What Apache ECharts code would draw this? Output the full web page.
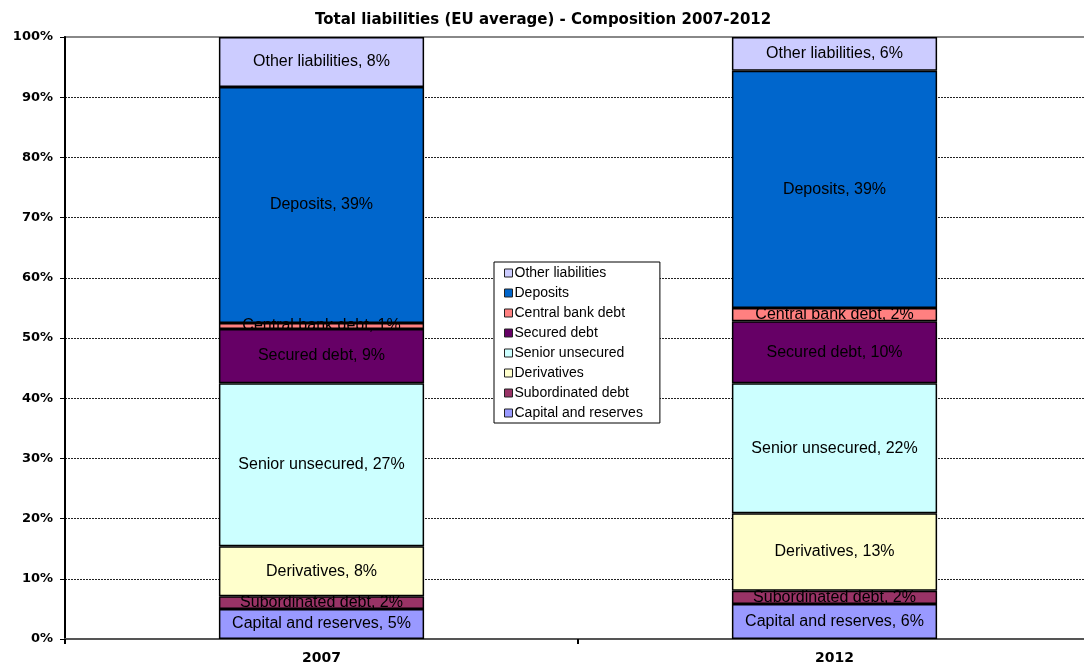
<!DOCTYPE html>
<html lang="en">

<head>
  <meta charset="UTF-8">
  <script src="https://cdn.jsdelivr.net/npm/echarts@6/dist/echarts.min.js"></script>
  <title>Total liabilities</title>
  <style>
    html, body { margin: 0; padding: 0; background: #fff; overflow: hidden; }
    /* plot area runs a few px past the right edge of the picture */
    .container { width: 1091px; height: 672px; }
  </style>
</head>

<body>
  <div class="container"></div>
  <script>
    const years = ["2007", "2012"];
    const seriesNames = [
      "Capital and reserves",
      "Subordinated debt",
      "Derivatives",
      "Senior unsecured",
      "Secured debt",
      "Central bank debt",
      "Deposits",
      "Other liabilities",
    ];
    // shares in %, bottom to top
    const capital = [5.0, 5.8];
    const subordinated = [2.1, 2.2];
    const derivatives = [8.3, 12.9];
    const seniorUnsecured = [27.1, 21.6];
    const secured = [9.0, 10.3];
    const centralBank = [1.0, 2.2];
    const deposits = [39.2, 39.4];
    const other = [8.3, 5.6];
    const yTicks = [0, 10, 20, 30, 40, 50, 60, 70, 80, 90, 100];

    const values = [capital, subordinated, derivatives, seniorUnsecured, secured, centralBank, deposits, other];
    const colors = ["#9999FF", "#993366", "#FFFFCC", "#CCFFFF", "#660066", "#FF8080", "#0066CC", "#CCCCFF"];
    const font = "Liberation Sans, Arial, sans-serif";
    const boldFont = "DejaVu Sans, Verdana, sans-serif";

    const chart = echarts.init(document.querySelector(".container"));
    const options = {
      animation: false,
      textStyle: { fontFamily: font },
      title: {
        text: "Total liabilities (EU average) - Composition 2007-2012",
        left: 310,
        top: 8,
        textStyle: { fontSize: 15, fontWeight: "bold", color: "#000", fontFamily: boldFont },
      },
      color: colors,
      legend: {
        data: seriesNames.slice().reverse(),
        orient: "vertical",
        left: 494,
        top: 262,
        padding: [4, 17, 3, 10],
        itemGap: 6,
        itemWidth: 8,
        itemHeight: 8,
        borderColor: "#000",
        borderWidth: 1,
        backgroundColor: "#fff",
        icon: "rect",
        itemStyle: { borderColor: "#222", borderWidth: 1 },
        textStyle: { fontSize: 14, color: "#000", padding: [0, 0, 0, -3] },
      },
      grid: {
        left: 65,
        right: 0,
        top: 37,
        bottom: 33,
        show: true,
        borderColor: "#888",
        borderWidth: 2,
      },
      xAxis: {
        type: "category",
        data: years,
        axisLine: { lineStyle: { color: "#555", width: 2 } },
        axisTick: { show: true, length: 5, lineStyle: { color: "#000", width: 2 } },
        axisLabel: { fontSize: 14, fontWeight: "bold", color: "#000", margin: 12, fontFamily: boldFont },
      },
      yAxis: {
        type: "value",
        min: yTicks[0],
        max: yTicks[yTicks.length - 1],
        interval: 10,
        axisLine: { show: true, lineStyle: { color: "#000", width: 2 } },
        axisTick: { show: true, length: 5, lineStyle: { color: "#000" } },
        axisLabel: { formatter: "{value}%", fontSize: 13, fontWeight: "bold", color: "#000", margin: 12, fontFamily: boldFont },
        splitLine: {
          show: true,
          showMaxLine: false,
          lineStyle: { color: "#222", type: [2, 1], width: 1 },
        },
      },
      series: seriesNames.map((name, i) => ({
        name: name,
        type: "bar",
        stack: "total",
        barWidth: "40%",
        data: values[i],
        itemStyle: { color: colors[i], borderColor: "#000", borderWidth: 1.5 },
        label: {
          show: true,
          position: "inside",
          fontSize: 16,
          color: "#000",
          formatter: (p) => `${name}, ${Math.round(p.value)}%`,
        },
      })),
    };

    chart.setOption(options);
  </script>
</body>

</html>
